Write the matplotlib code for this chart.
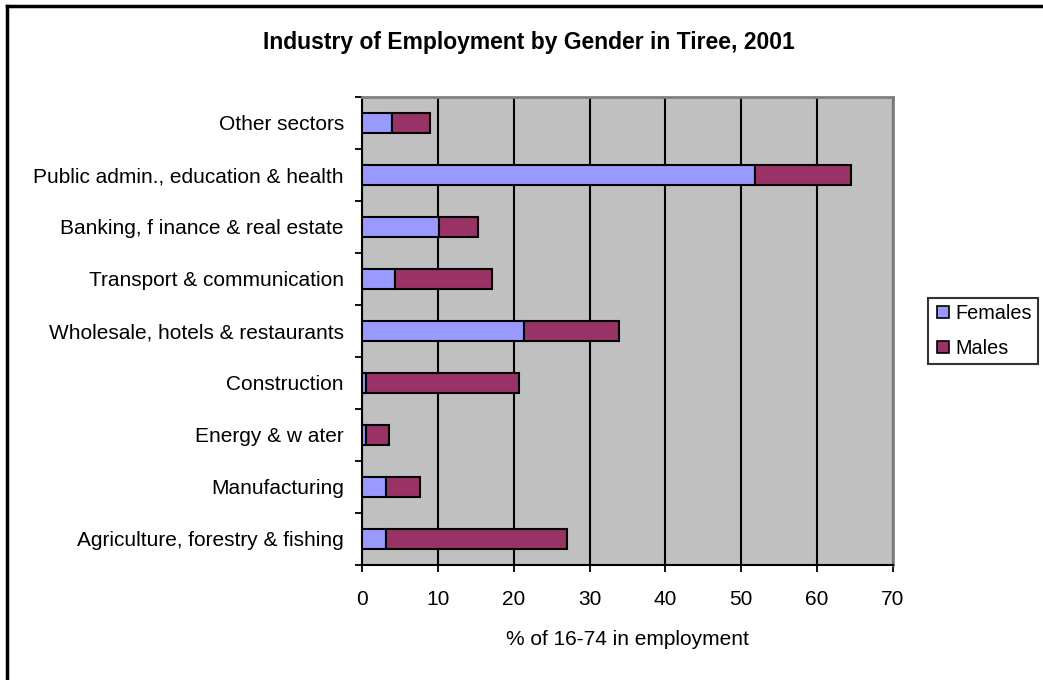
import numpy as np
import matplotlib.pyplot as plt
from matplotlib.lines import Line2D

plt.rcParams['font.family'] = ['Liberation Sans', 'DejaVu Sans']

categories = ["Agriculture, forestry & fishing", "Manufacturing", "Energy & w ater",
              "Construction", "Wholesale, hotels & restaurants", "Transport & communication",
              "Banking, f inance & real estate", "Public admin., education & health", "Other sectors"]
females = [3.1, 3.1, 0.5, 0.5, 21.3, 4.4, 10.2, 51.8, 4.0]
males = [23.9, 4.5, 3.1, 20.2, 12.6, 12.7, 5.1, 12.6, 5.0]

W, H = 1043, 680
fig = plt.figure(figsize=(W / 100, H / 100), dpi=100)
ax = fig.add_axes([362 / W, 1 - 565 / H, (893 - 362) / W, (565 - 97) / H])

y = np.arange(len(categories))
ax.barh(y, females, height=0.385, color="#9999ff", edgecolor="black", lw=1.5, label="Females", zorder=3)
ax.barh(y, males, left=females, height=0.385, color="#993366", edgecolor="black", lw=1.5, label="Males", zorder=3)

ax.set_facecolor("#c0c0c0")
ax.set_xlim(0, 70)
ax.set_ylim(-0.5, len(categories) - 0.5)
ax.set_xticks(range(0, 71, 10))
ax.set_yticks(y)
ax.set_yticklabels(categories)
ax.set_yticks(np.arange(-0.5, len(categories), 1), minor=True)
ax.tick_params(axis="y", which="major", length=0, pad=13, labelsize=15)
ax.tick_params(axis="y", which="minor", length=5, width=1.3, direction="out")
ax.tick_params(axis="x", length=5, width=1.3, labelsize=15, pad=13)
ax.xaxis.grid(True, color="black", lw=1.5, zorder=0)

for side in ["top", "right"]:
    ax.spines[side].set_color("#808080")
    ax.spines[side].set_linewidth(2)
ax.spines["left"].set_linewidth(1.5)
ax.spines["bottom"].set_linewidth(1.5)

ax.set_xlabel("% of 16-74 in employment", fontsize=15, labelpad=15)
fig.text(529 / W, 1 - 42 / H, "Industry of Employment by Gender in Tiree, 2001",
         ha="center", va="center", fontsize=16.5, fontweight="bold")

handles = [Line2D([], [], marker="s", ls="none", markersize=9, markerfacecolor=c,
                  markeredgecolor="black", markeredgewidth=1.2) for c in ["#9999ff", "#993366"]]
leg = fig.legend(handles, ["Females", "Males"], loc="center left",
                 bbox_to_anchor=(928 / W, 1 - 331 / H), fontsize=14.3, frameon=True,
                 fancybox=False, edgecolor="black", handletextpad=0.2, borderpad=0.3,
                 labelspacing=0.8, handlelength=0.9, borderaxespad=0)
leg.get_frame().set_linewidth(1.5)

# outer chart border (left and top visible)
fig.add_artist(Line2D([7 / W, 7 / W], [0, 1 - 6 / H], color="black", lw=2.5))
fig.add_artist(Line2D([7 / W, 1], [1 - 6 / H, 1 - 6 / H], color="black", lw=2.5))

fig.savefig("out.png", dpi=100)
